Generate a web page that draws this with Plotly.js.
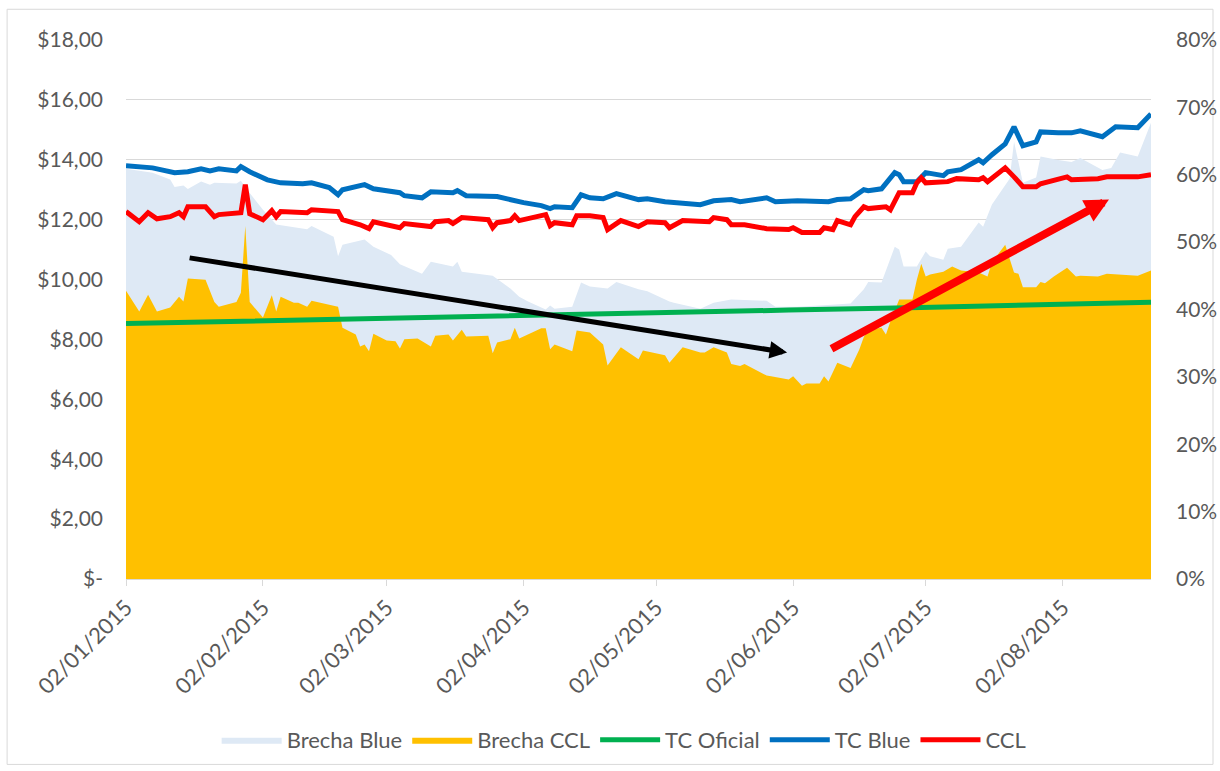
<!DOCTYPE html>
<html>
<head>
<meta charset="utf-8">
<script src="https://cdn.plot.ly/plotly-3.0.1.min.js"></script>
<style>html,body{margin:0;padding:0;background:#fff;}#chart{width:1220px;height:771px;}</style>
</head>
<body>
<div id="chart"></div>
<script>
// ---- Data ----
const blueDates = ['2015-01-02','2015-01-08','2015-01-13','2015-01-16','2015-01-19','2015-01-21','2015-01-23','2015-01-27','2015-01-28','2015-01-30','2015-02-03','2015-02-06','2015-02-11','2015-02-13','2015-02-17','2015-02-19','2015-02-20','2015-02-25','2015-02-27','2015-03-03','2015-03-05','2015-03-06','2015-03-10','2015-03-12','2015-03-17','2015-03-18','2015-03-20','2015-03-27','2015-03-31','2015-04-02','2015-04-06','2015-04-08','2015-04-09','2015-04-13','2015-04-15','2015-04-17','2015-04-20','2015-04-23','2015-04-28','2015-04-30','2015-05-04','2015-05-06','2015-05-12','2015-05-15','2015-05-19','2015-05-21','2015-05-27','2015-05-29','2015-06-03','2015-06-10','2015-06-12','2015-06-15','2015-06-18','2015-06-19','2015-06-22','2015-06-25','2015-06-26','2015-06-27','2015-06-30','2015-07-02','2015-07-06','2015-07-07','2015-07-10','2015-07-14','2015-07-15','2015-07-17','2015-07-20','2015-07-22','2015-07-24','2015-07-27','2015-07-28','2015-08-01','2015-08-04','2015-08-06','2015-08-11','2015-08-14','2015-08-19','2015-08-22'];
const tcBlue = [13.80,13.73,13.57,13.60,13.70,13.63,13.70,13.63,13.77,13.60,13.33,13.23,13.20,13.23,13.07,12.83,13.00,13.17,13.03,12.97,12.90,12.80,12.73,12.93,12.90,12.97,12.80,12.77,12.63,12.57,12.47,12.37,12.43,12.40,12.83,12.73,12.70,12.87,12.67,12.70,12.60,12.57,12.50,12.63,12.67,12.60,12.73,12.60,12.63,12.60,12.67,12.70,13.00,12.97,13.03,13.57,13.50,13.27,13.27,13.57,13.47,13.60,13.67,14.00,13.90,14.17,14.53,15.10,14.47,14.60,14.93,14.90,14.90,14.97,14.77,15.10,15.07,15.53];

const cclDates = ['2015-01-02','2015-01-05','2015-01-07','2015-01-09','2015-01-12','2015-01-14','2015-01-15','2015-01-16','2015-01-20','2015-01-22','2015-01-23','2015-01-27','2015-01-28','2015-01-29','2015-01-30','2015-02-02','2015-02-04','2015-02-05','2015-02-06','2015-02-12','2015-02-13','2015-02-19','2015-02-20','2015-02-24','2015-02-26','2015-02-27','2015-03-03','2015-03-05','2015-03-06','2015-03-12','2015-03-13','2015-03-16','2015-03-17','2015-03-19','2015-03-25','2015-03-26','2015-03-27','2015-03-30','2015-03-31','2015-04-01','2015-04-07','2015-04-08','2015-04-09','2015-04-13','2015-04-14','2015-04-17','2015-04-20','2015-04-21','2015-04-24','2015-04-28','2015-04-30','2015-05-04','2015-05-05','2015-05-08','2015-05-14','2015-05-15','2015-05-18','2015-05-19','2015-05-22','2015-05-27','2015-06-01','2015-06-02','2015-06-04','2015-06-08','2015-06-09','2015-06-11','2015-06-12','2015-06-15','2015-06-16','2015-06-18','2015-06-19','2015-06-23','2015-06-24','2015-06-26','2015-06-29','2015-06-30','2015-07-01','2015-07-02','2015-07-07','2015-07-09','2015-07-14','2015-07-15','2015-07-16','2015-07-20','2015-07-22','2015-07-24','2015-07-27','2015-07-28','2015-08-03','2015-08-04','2015-08-10','2015-08-12','2015-08-19','2015-08-22'];
const ccl = [12.27,11.93,12.23,12.03,12.10,12.23,12.10,12.43,12.43,12.10,12.17,12.20,12.23,13.17,12.20,12.00,12.30,12.10,12.27,12.23,12.33,12.27,12.00,11.83,11.70,11.93,11.80,11.73,11.87,11.77,11.93,11.97,11.87,12.07,12.00,11.73,11.90,11.97,12.13,11.97,12.17,11.80,11.90,11.83,12.13,12.13,12.07,11.67,11.97,11.77,11.93,11.90,11.73,11.97,11.93,12.07,12.00,11.83,11.83,11.70,11.67,11.73,11.57,11.57,11.73,11.67,11.97,11.83,12.10,12.43,12.37,12.43,12.33,12.90,12.90,13.23,13.40,13.23,13.27,13.37,13.33,13.40,13.27,13.73,13.43,13.10,13.10,13.20,13.43,13.33,13.37,13.43,13.43,13.50];

const oficialDates = ['2015-01-02','2015-02-02','2015-03-02','2015-04-01','2015-05-04','2015-06-01','2015-07-01','2015-08-03','2015-08-22'];
const tcOficial = [8.53,8.63,8.72,8.82,8.90,8.98,9.07,9.16,9.24];

const brechaBlueDates = ['2015-01-02','2015-01-08','2015-01-12','2015-01-13','2015-01-15','2015-01-16','2015-01-19','2015-01-21','2015-01-22','2015-01-27','2015-01-28','2015-01-30','2015-02-02','2015-02-05','2015-02-12','2015-02-13','2015-02-18','2015-02-19','2015-02-20','2015-02-25','2015-02-27','2015-03-03','2015-03-05','2015-03-10','2015-03-12','2015-03-17','2015-03-18','2015-03-19','2015-03-26','2015-03-30','2015-04-01','2015-04-03','2015-04-07','2015-04-08','2015-04-09','2015-04-13','2015-04-15','2015-04-17','2015-04-21','2015-04-23','2015-04-28','2015-04-30','2015-05-05','2015-05-06','2015-05-12','2015-05-15','2015-05-19','2015-05-27','2015-05-29','2015-06-03','2015-06-08','2015-06-15','2015-06-18','2015-06-19','2015-06-22','2015-06-25','2015-06-26','2015-06-27','2015-06-30','2015-07-01','2015-07-02','2015-07-03','2015-07-06','2015-07-07','2015-07-10','2015-07-14','2015-07-15','2015-07-17','2015-07-21','2015-07-22','2015-07-24','2015-07-27','2015-07-28','2015-08-01','2015-08-04','2015-08-06','2015-08-11','2015-08-13','2015-08-15','2015-08-19','2015-08-22'];
const brechaBlue = [0.609,0.603,0.593,0.582,0.584,0.579,0.590,0.585,0.588,0.587,0.591,0.573,0.548,0.526,0.519,0.524,0.508,0.479,0.496,0.504,0.493,0.481,0.467,0.453,0.471,0.464,0.471,0.456,0.450,0.431,0.419,0.412,0.400,0.406,0.401,0.404,0.440,0.434,0.431,0.441,0.430,0.427,0.412,0.410,0.401,0.410,0.415,0.413,0.404,0.404,0.406,0.409,0.430,0.441,0.440,0.493,0.489,0.464,0.464,0.474,0.486,0.479,0.474,0.490,0.493,0.529,0.523,0.556,0.594,0.649,0.588,0.596,0.627,0.622,0.619,0.625,0.607,0.610,0.633,0.627,0.677];

const brechaCCLDates = ['2015-01-02','2015-01-05','2015-01-07','2015-01-09','2015-01-12','2015-01-14','2015-01-15','2015-01-16','2015-01-20','2015-01-22','2015-01-23','2015-01-27','2015-01-28','2015-01-29','2015-01-30','2015-02-02','2015-02-04','2015-02-05','2015-02-06','2015-02-09','2015-02-10','2015-02-12','2015-02-13','2015-02-19','2015-02-20','2015-02-23','2015-02-24','2015-02-25','2015-02-26','2015-02-27','2015-03-02','2015-03-04','2015-03-05','2015-03-06','2015-03-09','2015-03-12','2015-03-13','2015-03-16','2015-03-17','2015-03-19','2015-03-20','2015-03-25','2015-03-26','2015-03-27','2015-03-30','2015-03-31','2015-04-01','2015-04-06','2015-04-07','2015-04-08','2015-04-09','2015-04-13','2015-04-14','2015-04-17','2015-04-20','2015-04-21','2015-04-24','2015-04-28','2015-04-29','2015-05-04','2015-05-05','2015-05-08','2015-05-12','2015-05-13','2015-05-15','2015-05-18','2015-05-19','2015-05-21','2015-05-22','2015-05-27','2015-05-28','2015-06-01','2015-06-02','2015-06-04','2015-06-05','2015-06-08','2015-06-09','2015-06-10','2015-06-12','2015-06-15','2015-06-17','2015-06-18','2015-06-19','2015-06-22','2015-06-23','2015-06-24','2015-06-26','2015-06-29','2015-06-30','2015-07-01','2015-07-02','2015-07-03','2015-07-06','2015-07-08','2015-07-10','2015-07-14','2015-07-16','2015-07-17','2015-07-20','2015-07-22','2015-07-23','2015-07-24','2015-07-27','2015-07-28','2015-07-29','2015-07-31','2015-08-03','2015-08-05','2015-08-06','2015-08-10','2015-08-12','2015-08-19','2015-08-22'];
const brechaCCL = [0.428,0.397,0.422,0.397,0.403,0.419,0.412,0.446,0.444,0.411,0.404,0.411,0.425,0.524,0.411,0.388,0.421,0.397,0.419,0.410,0.410,0.404,0.413,0.404,0.373,0.363,0.345,0.348,0.338,0.364,0.354,0.353,0.342,0.356,0.357,0.345,0.361,0.363,0.354,0.370,0.360,0.361,0.335,0.351,0.356,0.373,0.357,0.372,0.372,0.341,0.348,0.338,0.369,0.366,0.348,0.317,0.344,0.326,0.339,0.332,0.321,0.344,0.336,0.336,0.344,0.336,0.319,0.316,0.319,0.302,0.301,0.296,0.301,0.287,0.290,0.290,0.301,0.293,0.321,0.313,0.341,0.359,0.370,0.373,0.363,0.382,0.415,0.415,0.444,0.468,0.449,0.452,0.456,0.464,0.458,0.455,0.449,0.470,0.496,0.455,0.453,0.433,0.433,0.441,0.439,0.449,0.462,0.449,0.450,0.449,0.453,0.450,0.458];

// Axis ticks
const xTickVals = ['2015-01-02','2015-02-02','2015-03-02','2015-04-02','2015-05-02','2015-06-02','2015-07-02','2015-08-02'];
const xTickText = ['02/01/2015','02/02/2015','02/03/2015','02/04/2015','02/05/2015','02/06/2015','02/07/2015','02/08/2015'];
const leftTickVals = [0,2,4,6,8,10,12,14,16,18];
const leftTickText = ['$-','$2,00','$4,00','$6,00','$8,00','$10,00','$12,00','$14,00','$16,00','$18,00'];
const rightTickVals = [0,0.1,0.2,0.3,0.4,0.5,0.6,0.7,0.8];
const rightTickText = ['0%','10%','20%','30%','40%','50%','60%','70%','80%'];

const FONT = 'Lato, "Open Sans", sans-serif';
const TXT = '#595959';
const FS = 21;

const traces = [
  {name:'Brecha Blue', x:brechaBlueDates, y:brechaBlue, yaxis:'y', type:'scatter', mode:'lines',
   fill:'tozeroy', fillcolor:'#dee9f5', line:{width:0, color:'#dee9f5'}, hoverinfo:'skip'},
  {name:'Brecha CCL', x:brechaCCLDates, y:brechaCCL, yaxis:'y', type:'scatter', mode:'lines',
   fill:'tozeroy', fillcolor:'#ffc000', line:{width:0, color:'#ffc000'}, hoverinfo:'skip'},
  {name:'TC Oficial', x:oficialDates, y:tcOficial, yaxis:'y2', type:'scatter', mode:'lines',
   line:{color:'#00b050', width:5}},
  {name:'TC Blue', x:blueDates, y:tcBlue, yaxis:'y2', type:'scatter', mode:'lines',
   line:{color:'#0070c0', width:5}},
  {name:'CCL', x:cclDates, y:ccl, yaxis:'y2', type:'scatter', mode:'lines',
   line:{color:'#ff0000', width:5}}
];

const layout = {
  width:1220, height:771,
  margin:{l:126, r:69, t:40, b:191},
  paper_bgcolor:'#ffffff', plot_bgcolor:'#ffffff',
  font:{family:FONT, size:FS, color:TXT},
  showlegend:true,
  legend:{orientation:'h', x:0.486, xanchor:'center', y:-0.296, yanchor:'middle',
          font:{family:FONT, size:22, color:TXT}, itemwidth:60, traceorder:'normal'},
  xaxis:{type:'date', range:['2015-01-02','2015-08-22'], tickmode:'array',
         tickvals:xTickVals, ticktext:xTickText, tickangle:-45,
         ticks:'outside', ticklen:6, tickcolor:'#d9d9d9', showline:true, linecolor:'#d9d9d9',
         linewidth:1, showgrid:false, zeroline:false, tickfont:{family:FONT, size:22, color:TXT}},
  yaxis:{range:[0,0.8], side:'right', tickmode:'array', tickvals:rightTickVals, ticktext:rightTickText,
         showgrid:false, zeroline:false, showline:false, ticks:'', ticklabelstandoff:24,
         tickfont:{family:FONT, size:FS, color:TXT}},
  yaxis2:{range:[0,18], overlaying:'y', side:'left', tickmode:'array', tickvals:leftTickVals,
          ticktext:leftTickText, showgrid:true, gridcolor:'#d9d9d9', gridwidth:1, zeroline:false,
          showline:false, ticks:'', ticklabelstandoff:22, tickfont:{family:FONT, size:FS, color:TXT}},
  annotations:[
    {xref:'paper', yref:'paper', x:0.645, y:0.42, ax:-599, ay:-95, axref:'pixel', ayref:'pixel',
     showarrow:true, arrowhead:2, arrowsize:0.7, arrowwidth:5, arrowcolor:'#000000', text:'', standoff:0},
    {xref:'paper', yref:'paper', x:0.959, y:0.704, ax:-279, ay:150, axref:'pixel', ayref:'pixel',
     showarrow:true, arrowhead:2, arrowsize:0.6, arrowwidth:8, arrowcolor:'#ff0000', text:'', standoff:0}
  ],
  shapes:[
    {type:'rect', xref:'paper', yref:'paper', x0:-0.116, x1:1.0605, y0:-0.344, y1:1.057,
     line:{color:'#d9d9d9', width:1}, fillcolor:'rgba(0,0,0,0)', layer:'below'}
  ]
};

Plotly.newPlot('chart', traces, layout, {staticPlot:true, displayModeBar:false});
</script>
</body>
</html>
